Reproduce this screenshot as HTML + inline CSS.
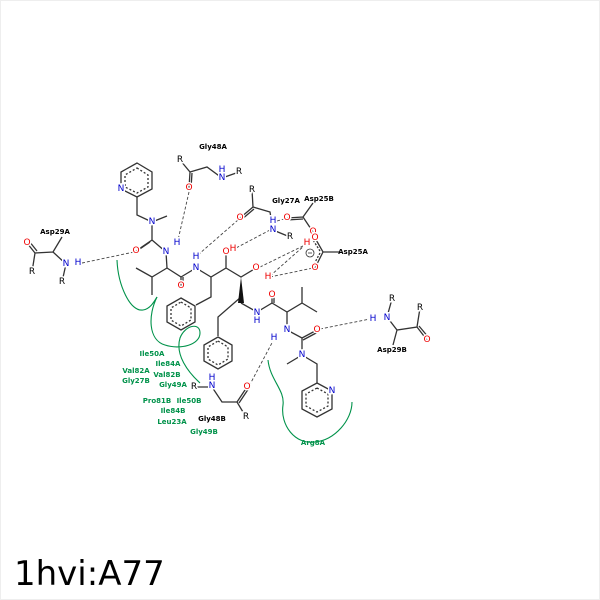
<!DOCTYPE html>
<html><head><meta charset="utf-8"><style>
html,body{margin:0;padding:0;background:#fff;width:600px;height:600px;overflow:hidden}
svg text{font-family:"DejaVu Sans","Liberation Sans",sans-serif}
.a{font-size:9px;text-anchor:middle;dominant-baseline:central;paint-order:stroke;stroke:#fff;stroke-width:3px}
.l{font-size:7px;font-weight:bold;text-anchor:middle;dominant-baseline:central}
.g{fill:#00924a}
</style></head><body>
<svg width="600" height="600" viewBox="0 0 600 600" xmlns="http://www.w3.org/2000/svg">
<rect x="0.5" y="0.5" width="599" height="599" fill="#fff" stroke="#eee"/>
<!-- green hydrophobic arcs -->
<g fill="none" stroke="#00924a" stroke-width="1.1">
<path d="M117,260 C118,285 130,312 143,310 C150,309 154,302 157,297"/>
<path d="M157,297 C148,315 148,340 165,345 C180,350 200,345 200,333 C200,322 185,325 180,338 C175,355 188,372 200,383"/>
<path d="M268,360 C270,380 285,390 283,405 C280,425 295,445 315,442 C335,440 352,420 352,402"/>
</g>
<!-- dashed H-bonds -->
<g stroke="#444" stroke-width="0.9" stroke-dasharray="3,2" fill="none">
<line x1="82" y1="263" x2="134" y2="252"/>
<line x1="189" y1="192" x2="178" y2="240"/>
<line x1="238" y1="220" x2="199" y2="254"/>
<line x1="270" y1="230" x2="236" y2="248"/>
<line x1="277" y1="221" x2="284" y2="219"/>
<line x1="260" y1="267" x2="305" y2="245"/>
<line x1="270" y1="276" x2="305" y2="245"/>
<line x1="270" y1="277" x2="313" y2="268"/>
<line x1="320" y1="329" x2="370" y2="319"/>
<line x1="247" y1="390" x2="273" y2="341"/>
</g>
<!-- bonds -->
<g stroke="#333" stroke-width="1.3" fill="none">
<!-- left pyridine -->
<polygon points="137,163 152,172 152,189 137,197 121,189 121,172"/>
<g stroke-dasharray="2,2"><polygon points="137,168 148,175 148,187 137,193 125,187 125,175"/></g>
<path d="M137,197 L137,215 L152,222 L167,216 M152,222 L152,240 L136,251 M152,240 L166,252 M166,252 L167,268"/>
<path d="M150,242 L134,253"/>
<path d="M167,268 L152,277 L136,268 M152,277 L152,295 M167,268 L181,277 L181,286 M181,277 L196,268 L211,277 L226,268 L226,252 M226,268 L241,277 L256,268 M211,277 L211,297 L196,305"/>
<path d="M183,277 L183,286"/>
<polygon points="181,298 195,306 195,322 181,330 167,322 167,306"/>
<polygon points="181,302 191,308 191,320 181,326 171,320 171,308" stroke-dasharray="2,2"/>
<path d="M241,297 L218,317 L218,336 M241,303 L257,312 L272,303 L272,295 M272,303 L287,312 L302,303 L302,287 M302,303 L317,312 M287,312 L287,330 L302,338 L317,330 M302,338 L302,355 L287,364 M302,355 L317,364 L317,383"/>
<path d="M274,303 L274,295 M303,340 L318,332"/>
<polygon points="218,337 232,345 232,361 218,369 204,361 204,345"/>
<polygon points="218,341 228,347 228,359 218,365 208,359 208,347" stroke-dasharray="2,2"/>
<polygon points="317,383 332,391 332,409 317,417 302,409 302,391"/>
<polygon points="317,388 328,394 328,406 317,412 306,406 306,394" stroke-dasharray="2,2"/>
<!-- Asp29A -->
<path d="M62,237 L53,252 L35,253 L32,272 M53,252 L66,264 L62,282 M35,253 L27,243 M37,251 L29,241"/>
<!-- Gly48A -->
<path d="M180,160 L190,172 L207,167 L222,178 L239,172 M190,172 L189,188 M192,173 L191,188"/>
<!-- Gly27A -->
<path d="M252,190 L253,207 L270,212 L273,230 L290,237 M253,207 L240,218 M254,209 L241,220"/>
<!-- Asp25B / Asp25A -->
<path d="M313,203 L303,217 L313,232 M303,217 L287,218 M303,219 L287,220 M340,252 L323,252 L315,238 M323,252 L315,268"/>
<path d="M320,251 L313,240 M320,253 L313,266" stroke-dasharray="2,1.5"/>
<!-- Asp29B -->
<path d="M392,299 L387,317 L397,330 L417,327 L420,308 M397,330 L393,345 M417,327 L427,340 M419,326 L429,338"/>
<!-- Gly48B -->
<path d="M194,387 L212,387 L222,402 L237,402 L246,417 M237,402 L247,387 M239,403 L249,388"/>
</g>
<!-- wedge -->
<polygon points="241,277 238,303 244,303" fill="#111"/>
<!-- atom labels -->
<g class="a">
<text x="121" y="189" fill="#00c">N</text>
<text x="152" y="222" fill="#00c">N</text>
<text x="136" y="251" fill="#e00">O</text>
<text x="166" y="252" fill="#00c">N</text>
<text x="177" y="243" fill="#00c">H</text>
<text x="181" y="286" fill="#e00">O</text>
<text x="196" y="268" fill="#00c">N</text>
<text x="196" y="257" fill="#00c">H</text>
<text x="226" y="252" fill="#e00">O</text>
<text x="233" y="249" fill="#e00">H</text>
<text x="256" y="268" fill="#e00">O</text>
<text x="268" y="277" fill="#e00">H</text>
<text x="257" y="313" fill="#00c">N</text>
<text x="257" y="321" fill="#00c">H</text>
<text x="272" y="295" fill="#e00">O</text>
<text x="287" y="330" fill="#00c">N</text>
<text x="274" y="338" fill="#00c">H</text>
<text x="317" y="330" fill="#e00">O</text>
<text x="302" y="355" fill="#00c">N</text>
<text x="332" y="391" fill="#00c">N</text>
<text x="27" y="243" fill="#e00">O</text>
<text x="32" y="272" fill="#000">R</text>
<text x="66" y="264" fill="#00c">N</text>
<text x="78" y="263" fill="#00c">H</text>
<text x="62" y="282" fill="#000">R</text>
<text x="180" y="160" fill="#000">R</text>
<text x="189" y="188" fill="#e00">O</text>
<text x="222" y="178" fill="#00c">N</text>
<text x="222" y="170" fill="#00c">H</text>
<text x="239" y="172" fill="#000">R</text>
<text x="252" y="190" fill="#000">R</text>
<text x="240" y="218" fill="#e00">O</text>
<text x="273" y="230" fill="#00c">N</text>
<text x="273" y="221" fill="#00c">H</text>
<text x="290" y="237" fill="#000">R</text>
<text x="287" y="218" fill="#e00">O</text>
<text x="313" y="232" fill="#e00">O</text>
<text x="307" y="243" fill="#e00">H</text>
<text x="315" y="238" fill="#e00">O</text>
<text x="315" y="268" fill="#e00">O</text>
<text x="373" y="319" fill="#00c">H</text>
<text x="387" y="318" fill="#00c">N</text>
<text x="392" y="299" fill="#000">R</text>
<text x="420" y="308" fill="#000">R</text>
<text x="427" y="340" fill="#e00">O</text>
<text x="212" y="378" fill="#00c">H</text>
<text x="212" y="386" fill="#00c">N</text>
<text x="194" y="387" fill="#000">R</text>
<text x="247" y="387" fill="#e00">O</text>
<text x="246" y="417" fill="#000">R</text>
</g>
<circle cx="310" cy="253" r="4" fill="#fff" stroke="#333" stroke-width="0.8"/>
<line x1="308" y1="253" x2="312" y2="253" stroke="#333" stroke-width="0.8"/>
<!-- residue labels -->
<g class="l">
<text x="213" y="147">Gly48A</text>
<text x="286" y="201">Gly27A</text>
<text x="319" y="199">Asp25B</text>
<text x="353" y="252">Asp25A</text>
<text x="55" y="232">Asp29A</text>
<text x="392" y="350">Asp29B</text>
<text x="212" y="419">Gly48B</text>
</g>
<g class="l g">
<text x="152" y="354">Ile50A</text>
<text x="168" y="364">Ile84A</text>
<text x="136" y="371">Val82A</text>
<text x="167" y="375">Val82B</text>
<text x="136" y="381">Gly27B</text>
<text x="173" y="385">Gly49A</text>
<text x="157" y="401">Pro81B</text>
<text x="189" y="401">Ile50B</text>
<text x="173" y="411">Ile84B</text>
<text x="172" y="422">Leu23A</text>
<text x="204" y="432">Gly49B</text>
<text x="313" y="443">Arg8A</text>
</g>
<text x="14" y="585" font-size="34" fill="#000" style="font-family:'DejaVu Sans',sans-serif">1hvi:A77</text>
</svg>
</body></html>
